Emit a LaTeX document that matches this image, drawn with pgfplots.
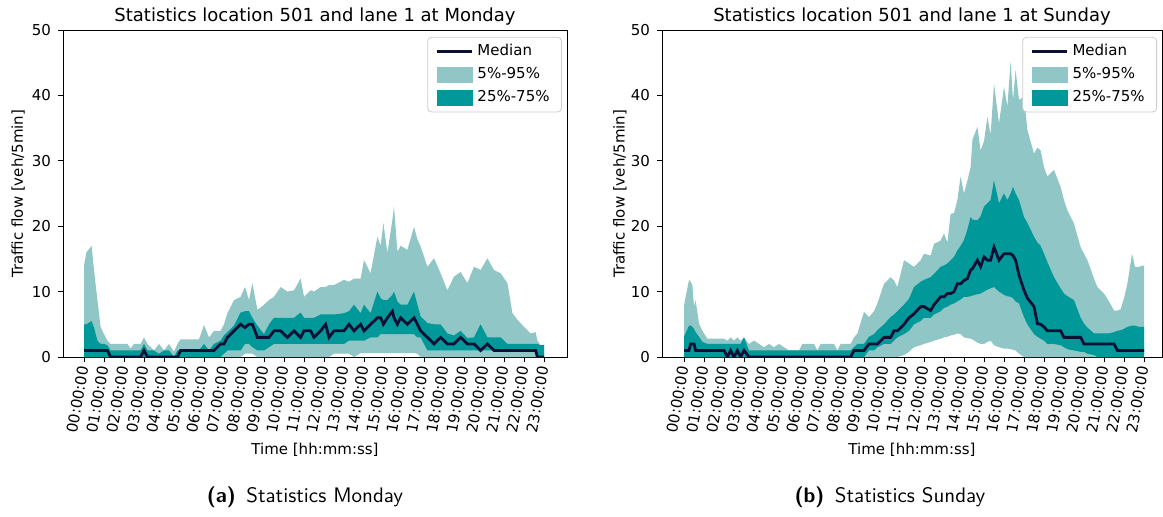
\documentclass[border=0pt]{standalone}
\usepackage{fontspec}
\setmainfont{DejaVu Sans}
\usepackage{pgfplots}
\pgfplotsset{compat=1.18}
\usepackage{pgfplotstable}
\usepgfplotslibrary{fillbetween}
\definecolor{lightband}{RGB}{144,198,197}
\definecolor{darkband}{RGB}{0,152,152}
\definecolor{medline}{RGB}{12,16,52}

\pgfplotstableread{
h     p5   p25  med  p75  p95
0.00  0    0    1    5    14
0.12  0    0    1    5    16
0.38  0    0    1    5.5  17
0.50  0    0    1    4.5  13.3
0.67  0    0    1    2.5  8.7
0.83  0    0    1    2    4.6
1.00  0    0    1    2    3.5
1.17  0    0    1    1.8  2.5
1.33  0    0    0    1    2
1.75  0    0    0    1    2
2.17  0    0    0    1    2
2.33  0    0    0    1    1.3
2.50  0    0    0    1    2
2.83  0    0    0    1    2
3.00  0    0    1    2    3
3.17  0    0    0    1    2
3.50  0    0    0    1    1
3.75  0    0    0    0.5  2
4.00  0    0    0    1    1
4.25  0    0    0    1    2
4.50  0    0    0    0    0.8
4.67  0    0    0    1    2
4.83  0    0    1    1    2.7
5.25  0    0    1    1    2.7
5.75  0    0    1    1    2.7
6.00  0    0    1    2    4.9
6.25  0    0    1    1    3
6.50  0    0    1    2    4
6.83  0    0    2    2.5  4
7.00  0    0.5  2    3.3  5
7.17  0    1    3    3.8  6.7
7.50  0    1    4    4.8  8.7
7.83  0    1    5    6.8  9.2
8.05  0.5  2    4.5  7    10.7
8.25  0.5  2    5    7    8.7
8.42  0.5  1.5  5    6    11.3
8.67  0    1    3    4.8  7.2
9.00  0    1    3    3.5  8
9.25  0    1.5  3    5    8.7
9.50  0    2    4    6    9.2
9.83  0    2    4    6    10.7
10.17 0    2    3    6    10
10.50 0    2    4    6    10.2
10.83 0    2    3    6.8  12
11.00 0    2    4    6    9.2
11.33 0    2    4    6    10.2
11.50 0    2    3    6    10
11.83 0    2    4    6.5  10.7
12.08 0    2    5    6.5  10.7
12.25 0    2    3    6.5  11
12.50 0.5  2    4    6.5  11
13.00 0.5  2    4    6.7  11.8
13.25 0.5  2.5  5    7    11.5
13.50 0    2.5  4    8    12
13.83 0.6  2.5  5    6.7  12
14.00 0.6  2.5  4    8    14.8
14.33 0.6  3    5    6.7  12.8
14.67 0.6  3    6    10   18.4
14.83 0.6  3.5  6    9    17
14.97 0.6  3.5  5    8.7  20.5
15.17 0.6  3.5  6    8.7  15.9
15.42 0.6  3.5  7    9.5  21
15.50 0.6  3.5  6    10   23
15.67 0.6  3.5  5    8.5  16.1
15.83 0.6  3.5  6    8    17
16.17 0.6  3.5  5    8    16.4
16.50 0.6  3.5  6    10   19.9
16.67 0.5  3    5    8    18
16.83 0    3    4    6.2  16.9
17.17 0    1    3    5.2  13.8
17.50 0    1    2    5    15.1
17.83 0    1    3    5    12.8
18.17 0    1    2    3.6  10.2
18.50 0    1    2    3.3  12.3
18.83 0    1    3    4    13
19.17 0    1    2    2.9  11.3
19.50 0    1    2    3    13.8
19.83 0    1    1    5    13.3
20.17 0    1    2    3    15.1
20.50 0    1    1    3    13.3
20.83 0    1    1    3    12.8
21.17 0    1    1    2    11.3
21.42 0    1    1    2    6.7
21.67 0    1    1    2    5.7
22.00 0    1    1    2    4.6
22.33 0    1    1    2    3.6
22.58 0    1    1    2    3.8
22.67 0    0    0    2    2.5
22.83 0    0    0    1.8  1.8
23.00 0    0    0    1.8  1.9
}\mon

\pgfplotstableread{
h     p5   p25  med  p75  p95
0.00  0    0    1    3.1  7.9
0.25  0    0    1    4.8  11.8
0.33  0    0    2    4.8  11.5
0.42  0    0    2    4.6  11
0.50  0    0    2    4.3  7.7
0.58  0    0    1    3.8  8.7
0.75  0    0    1    3.1  5.1
0.92  0    0    1    2.3  4
1.17  0    0    1    2    2.8
2.00  0    0    1    2    2.8
2.17  0    0    0    2    2.5
2.33  0    0    1    2    3
2.50  0    0    0    2    2.5
2.67  0    0    1    2    3
2.83  0    0    0    2    2.5
3.00  0    0    1    3    3
3.25  0    0    0    1    2
3.50  0    0    0    1    2.5
3.75  0    0    0    1    2
4.00  0    0    0    1    1.5
4.25  0    0    0    1    2
4.50  0    0    0    1    1.5
4.75  0    0    0    1    2
5.00  0    0    0    1    1.5
5.25  0    0    0    1    1
5.75  0    0    0    1    1
5.92  0    0    0    1    2
6.50  0    0    0    1    2
6.67  0    0    0    1    1
6.83  0    0    0    1    2
7.50  0    0    0    1    2
7.67  0    0    0    1    1
7.83  0    0    0    1    2
8.33  0    0    0    1    2
8.50  0    0    1    1.5  3
8.67  0    0    1    2    3.6
9.00  0    0    1    2    6.9
9.25  0    1    2    3.1  6.1
9.50  0    1    2    3.5  7
9.67  0    1.5  2    4.1  8.2
10.00 0    2    3    5    11.2
10.33 0    2    3    6.1  12.2
10.50 0    2.5  4    6.5  11.7
10.67 0    3    4    7    10.7
11.00 0.3  3.5  5    8    14.8
11.25 0.8  4    6    8.9  14.3
11.50 1.5  5    6.6  10.7 13.8
11.83 1.8  5.5  7.7  11.5 14.8
12.00 2    6    7.7  11.8 15.8
12.33 2.3  6    7.1  12.2 15.5
12.50 2.5  6.5  8    12.7 17.3
12.83 2.8  7    9.2  13.8 17.8
13.00 3    7.5  9.2  14   18.9
13.17 3.1  7.7  9.7  14.3 17.5
13.33 3.3  8    9.7  14.8 21.9
13.50 3.4  8.2  10   15.3 22
13.67 3.6  8.5  11.2 16.3 24
13.83 3.5  8.8  11.2 17   27.6
14.00 3    9.2  11.7 17.9 25
14.17 2.9  9.2  12   19.5 27
14.33 2.8  9.3  13.3 21.4 29
14.42 2.7  9.4  13.5 21   33.2
14.67 2.2  9.6  14.8 20.9 35.2
14.83 2    9.7  13.8 21.5 31.6
15.00 2    10   15.3 23   33
15.17 2.3  10.3 14.8 23.5 36.7
15.33 2.5  10.5 14.8 24   34
15.50 1.8  10.7 16.8 27   41.8
15.75 1.5  10   14.8 23.5 35.7
16.00 1.3  9.5  15.8 25   41.3
16.17 1.3  9.3  15.8 24   38.3
16.33 1.2  9.2  15.8 25   45.2
16.45 1.1  9    15.5 26   39.3
16.58 1    8.5  14.8 25   43.9
16.75 0.5  8.2  12.5 24   39.3
17.00 0    6.1  10.2 21.4 39.8
17.17 0    5    9    20.5 34.7
17.50 0    3.5  7.7  18.4 31.1
17.67 0    3.1  5.1  17.5 32
17.83 0    2.8  5    17   31.6
18.00 0    2.5  4.6  15.8 29
18.17 0    2    4    14.5 27.6
18.50 0    2    4    12.2 28.6
18.83 0    1.8  4    10.5 26
19.00 0    1.5  3    9.7  24
19.17 0    1.2  3    9.3  22.4
19.50 0    1    3    8.7  20.4
19.83 0    0.8  3    6    16.8
20.00 0    0.8  2    5.1  15.8
20.17 0    0.5  2    4.5  14.8
20.50 0    0.3  2    3.6  12
20.67 0    0    2    3.6  10.7
21.00 0    0    2    3.6  9.7
21.25 0    0    2    3.6  8.5
21.50 0    0    2    3.8  7.1
21.67 0    0    1    4    7.1
21.83 0    0    1    4.1  7.3
22.00 0    0    1    4.3  9
22.17 0    0    1    4.6  11.2
22.40 0    0    1    4.8  15.8
22.55 0    0    1    4.8  13.8
22.75 0    0    1    4.6  13.8
23.00 0    0    1    4.6  14
}\sun

\pgfplotsset{
  statax/.style={
    scale only axis,
    height=163.5pt,
    ymin=0, ymax=50,
    xtick={0,1,...,23},
    xticklabels={00:00:00,01:00:00,02:00:00,03:00:00,04:00:00,05:00:00,06:00:00,07:00:00,08:00:00,09:00:00,10:00:00,11:00:00,12:00:00,13:00:00,14:00:00,15:00:00,16:00:00,17:00:00,18:00:00,19:00:00,20:00:00,21:00:00,22:00:00,23:00:00},
    ytick={0,10,...,50},
    xtick pos=bottom, ytick pos=left,
    tick align=outside,
    major tick length=2.5pt,
    every tick/.style={black, line width=0.45pt},
    axis line style={line width=0.45pt},
    /pgf/number format/assume math mode=true,
    tick label style={font=\fontsize{7.5}{9}\selectfont},
    xticklabel style={rotate=80, anchor=east, inner sep=2pt},
    every axis title/.style={font=\fontsize{9}{11}\selectfont, at={(axis description cs:0.5,1)}, anchor=base, yshift=4.3pt, inner sep=0pt},
    xlabel={Time [hh:mm:ss]},
    ylabel={Traffic flow [veh/5min]},
    every axis x label/.style={at={(axis description cs:0.5,-0.284)}, anchor=center, font=\fontsize{7.5}{9}\selectfont},
    legend cell align=left,
    legend style={at={(axis description cs:0.99,0.979)}, anchor=north east,
      draw=black!20, rounded corners=2pt, fill=white,
      font=\fontsize{7.5}{8}\selectfont, inner xsep=4pt, inner ysep=1.5pt, row sep=0.5pt},
  },
  medleg/.style={legend image code/.code={\draw[##1, sharp corners] (0pt,0pt) -- (17.5pt,0pt);}},
  areleg/.style={legend image code/.code={\fill[##1, sharp corners] (0pt,-3.6pt) rectangle (17.5pt,3.6pt);}},
}

\begin{document}
\begin{tikzpicture}
\path (0,0) rectangle (581.5pt,258pt);

\begin{axis}[statax, at={(31.5pt,79.5pt)}, anchor=south west, width=252pt,
  xmin=-1.05, xmax=24.15,
  title={Statistics location 501 and lane 1 at Monday},
  every axis y label/.style={at={(axis description cs:-0.089,0.5)}, rotate=90, anchor=center, font=\fontsize{7.5}{9}\selectfont}]
\addplot[draw=none, name path=a95, forget plot] table[x=h, y=p95] {\mon};
\addplot[draw=none, name path=a5, forget plot] table[x=h, y=p5] {\mon};
\addplot[draw=none, name path=a75, forget plot] table[x=h, y=p75] {\mon};
\addplot[draw=none, name path=a25, forget plot] table[x=h, y=p25] {\mon};
\addplot[lightband, forget plot] fill between[of=a95 and a5];
\addplot[darkband, forget plot] fill between[of=a75 and a25];
\addplot[medline, line width=1.4pt, forget plot] table[x=h, y=med] {\mon};
\addlegendimage{medline, line width=1.4pt, medleg}
\addlegendentry{Median}
\addlegendimage{lightband, areleg}
\addlegendentry{5\%-95\%}
\addlegendimage{darkband, areleg}
\addlegendentry{25\%-75\%}
\end{axis}

\begin{axis}[statax, at={(331pt,79.5pt)}, anchor=south west, width=250pt,
  xmin=-1.1, xmax=23.9,
  title={Statistics location 501 and lane 1 at Sunday},
  every axis y label/.style={at={(axis description cs:-0.084,0.5)}, rotate=90, anchor=center, font=\fontsize{7.5}{9}\selectfont}]
\addplot[draw=none, name path=b95, forget plot] table[x=h, y=p95] {\sun};
\addplot[draw=none, name path=b5, forget plot] table[x=h, y=p5] {\sun};
\addplot[draw=none, name path=b75, forget plot] table[x=h, y=p75] {\sun};
\addplot[draw=none, name path=b25, forget plot] table[x=h, y=p25] {\sun};
\addplot[lightband, forget plot] fill between[of=b95 and b5];
\addplot[darkband, forget plot] fill between[of=b75 and b25];
\addplot[medline, line width=1.4pt, forget plot] table[x=h, y=med] {\sun};
\addlegendimage{medline, line width=1.4pt, medleg}
\addlegendentry{Median}
\addlegendimage{lightband, areleg}
\addlegendentry{5\%-95\%}
\addlegendimage{darkband, areleg}
\addlegendentry{25\%-75\%}
\end{axis}

\node[font=\sffamily\fontsize{10.5}{12}\selectfont] at (152.5pt,9.5pt) {\textbf{(a)}\enspace Statistics Monday};
\node[font=\sffamily\fontsize{10.5}{12}\selectfont] at (445pt,9.5pt) {\textbf{(b)}\enspace Statistics Sunday};
\end{tikzpicture}
\end{document}
